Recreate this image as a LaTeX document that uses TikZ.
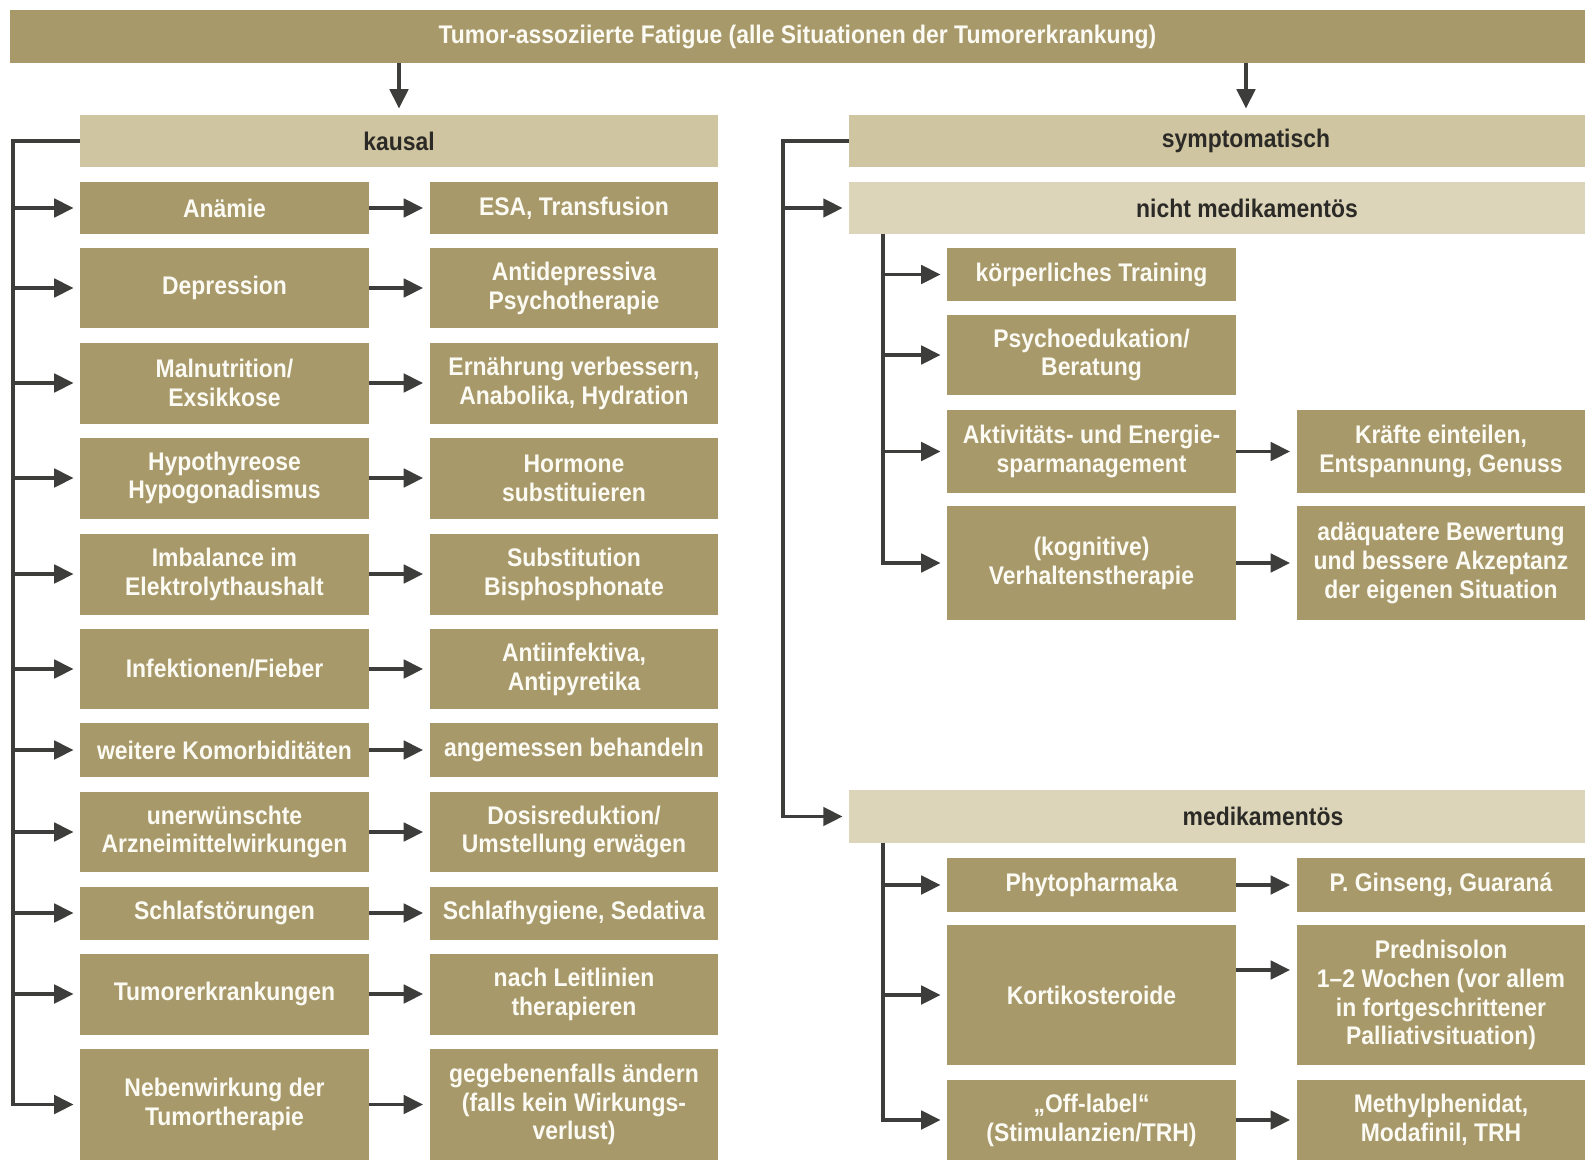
\documentclass[tikz,border=0pt]{standalone}
\usepackage{fontspec}
\setmainfont{Liberation Sans}[FakeStretch=0.9]
\usetikzlibrary{arrows.meta,positioning,calc}
\definecolor{FatDark}{HTML}{A8996A}
\definecolor{FatLight}{HTML}{CFC5A0}
\definecolor{FatPale}{HTML}{DDD5B9}
\definecolor{FatInk}{HTML}{2B2A26}
\definecolor{FatPaper}{HTML}{FBFAF3}
\definecolor{FatArrow}{HTML}{3D3D3B}
\tikzset{
  fat text/.style={font=\bfseries\fontsize{14.5}{16.4}\selectfont},
  fat box/.style={fat text, fill=FatDark, text=FatPaper, align=center, inner sep=0pt, minimum width=5.78cm},
  fat head/.style={fat text, fill=FatLight, text=FatInk, align=center, inner sep=0pt, minimum height=1.04cm},
  fat sub/.style={fat head, fill=FatPale},
  fat arrow/.style={draw=FatArrow, line width=2pt, -{Triangle[length=11pt,width=10.5pt]}, shorten >=3.5pt},
}

\begin{document}
\begin{tikzpicture}[x=0.02cm,y=-0.02cm]
  \useasboundingbox (0,0) rectangle (1588,1160);
  \node[fat box, minimum width=31.5cm, minimum height=1.06cm] (top) at (797.5,36.5)
    {Tumor-assoziierte Fatigue (alle Situationen der Tumorerkrankung)};

  % kausal: cause on the left, treatment on the right
  \node[fat head, minimum width=12.76cm] (kausal) at (399,141) {kausal};
  \node[fat box, minimum height=1.04cm] (anaemie) at (224.5,208) {Anämie};
  \node[fat box, minimum height=1.04cm] (esa) at (574,208) {ESA, Transfusion};
  \node[fat box, minimum height=1.6cm] (depr) at (224.5,288) {Depression};
  \node[fat box, minimum height=1.6cm] (antidep) at (574,288) {Antidepressiva\\Psychotherapie};
  \node[fat box, minimum height=1.62cm] (maln) at (224.5,383) {Malnutrition/\\Exsikkose};
  \node[fat box, minimum height=1.62cm] (ernaehr) at (574,383) {Ernährung verbessern,\\Anabolika, Hydration};
  \node[fat box, minimum height=1.62cm] (hypo) at (224.5,478) {Hypothyreose\\Hypogonadismus};
  \node[fat box, minimum height=1.62cm] (hormone) at (574,478) {Hormone\\substituieren};
  \node[fat box, minimum height=1.62cm] (imbal) at (224.5,574) {Imbalance im\\Elektrolythaushalt};
  \node[fat box, minimum height=1.62cm] (substit) at (574,574) {Substitution\\Bisphosphonate};
  \node[fat box, minimum height=1.6cm] (infekt) at (224.5,669) {Infektionen/Fieber};
  \node[fat box, minimum height=1.6cm] (antiinf) at (574,669) {Antiinfektiva,\\Antipyretika};
  \node[fat box, minimum height=1.08cm] (komorb) at (224.5,750) {weitere Komorbiditäten};
  \node[fat box, minimum height=1.08cm] (behandeln) at (574,750) {angemessen behandeln};
  \node[fat box, minimum height=1.6cm] (uaw) at (224.5,832) {unerwünschte\\Arzneimittelwirkungen};
  \node[fat box, minimum height=1.6cm] (dosis) at (574,832) {Dosisreduktion/\\Umstellung erwägen};
  \node[fat box, minimum height=1.06cm] (schlaf) at (224.5,913) {Schlafstörungen};
  \node[fat box, minimum height=1.06cm] (hygiene) at (574,913) {Schlafhygiene, Sedativa};
  \node[fat box, minimum height=1.62cm] (tumor) at (224.5,994) {Tumorerkrankungen};
  \node[fat box, minimum height=1.62cm] (leitlinien) at (574,994) {nach Leitlinien\\therapieren};
  \node[fat box, minimum height=2.22cm] (nebenw) at (224.5,1104.5) {Nebenwirkung der\\Tumortherapie};
  \node[fat box, minimum height=2.22cm] (aendern) at (574,1104.5) {gegebenenfalls ändern\\(falls kein Wirkungs-\\verlust)};

  % symptomatisch: two branches, each with its own bus
  \node[fat head, minimum width=14.72cm] (sympt) at (1217,141) {\hspace*{1.16cm}symptomatisch};
  \node[fat sub, minimum width=14.72cm] (nmed) at (1217,208) {\hspace*{1.2cm}nicht medikamentös};
  \node[fat box, minimum height=1.06cm] (training) at (1091.5,274.5) {körperliches Training};
  \node[fat box, minimum height=1.6cm] (psycho) at (1091.5,355) {Psychoedukation/\\Beratung};
  \node[fat box, minimum height=1.66cm] (aktiv) at (1091.5,451.5) {Aktivitäts- und Energie-\\sparmanagement};
  \node[fat box, minimum height=1.66cm] (kraefte) at (1441,451.5) {Kräfte einteilen,\\Entspannung, Genuss};
  \node[fat box, minimum height=2.28cm] (kogn) at (1091.5,563) {(kognitive)\\Verhaltenstherapie};
  \node[fat box, minimum height=2.28cm] (bewertung) at (1441,563) {adäquatere Bewertung\\und bessere Akzeptanz\\der eigenen Situation};

  \node[fat sub, minimum width=14.72cm, minimum height=1.06cm] (med) at (1217,816.5) {\hspace*{1.84cm}medikamentös};
  \node[fat box, minimum height=1.08cm] (phyto) at (1091.5,885) {Phytopharmaka};
  \node[fat box, minimum height=1.08cm] (ginseng) at (1441,885) {P. Ginseng, Guaraná};
  \node[fat box, minimum height=2.8cm] (kortiko) at (1091.5,995) {Kortikosteroide};
  \node[fat box, minimum height=2.8cm] (predni) at (1441,995) {Prednisolon\\1–2 Wochen (vor allem\\in fortgeschrittener\\Palliativsituation)};
  \node[fat box, minimum height=1.6cm] (offlabel) at (1091.5,1120) {„Off-label“\\(Stimulanzien/TRH)};
  \node[fat box, minimum height=1.6cm] (methyl) at (1441,1120) {Methylphenidat,\\Modafinil, TRH};

  % top split
  \draw[fat arrow] (kausal.north |- top.south) -- (kausal.north);
  \draw[fat arrow] ([xshift=0.58cm]sympt.north |- top.south) -- ([xshift=0.58cm]sympt.north);

  % buses
  \coordinate (lbus) at (13,141);
  \coordinate (rbus) at (783,141);
  \coordinate (nbus) at (883,234);
  \coordinate (mbus) at (883,843);
  \draw[fat arrow] (kausal.west) -- (lbus) |- (nebenw.west);
  \foreach \n in {anaemie,depr,maln,hypo,imbal,infekt,komorb,uaw,schlaf,tumor}
    \draw[fat arrow] (lbus |- \n.west) -- (\n.west);
  \draw[fat arrow] (sympt.west) -- (rbus) |- (med.west);
  \draw[fat arrow] (rbus |- nmed.west) -- (nmed.west);
  \draw[fat arrow] (nbus) |- (kogn.west);
  \foreach \n in {training,psycho,aktiv}
    \draw[fat arrow] (nbus |- \n.west) -- (\n.west);
  \draw[fat arrow] (mbus) |- (offlabel.west);
  \foreach \n in {phyto,kortiko}
    \draw[fat arrow] (mbus |- \n.west) -- (\n.west);

  % cause -> treatment
  \foreach \a/\b in {anaemie/esa,depr/antidep,maln/ernaehr,hypo/hormone,imbal/substit,
      infekt/antiinf,komorb/behandeln,uaw/dosis,schlaf/hygiene,tumor/leitlinien,nebenw/aendern,
      aktiv/kraefte,kogn/bewertung,phyto/ginseng,offlabel/methyl}
    \draw[fat arrow] (\a) -- (\b);
  \draw[fat arrow] ([yshift=0.5cm]kortiko.east) -- ([yshift=0.5cm]kortiko.east -| predni.west);
\end{tikzpicture}
\end{document}
